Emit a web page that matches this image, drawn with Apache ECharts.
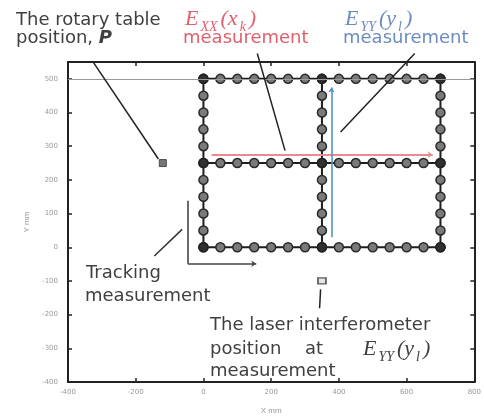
<!DOCTYPE html>
<html><head><meta charset="utf-8">
<script src="https://cdn.jsdelivr.net/npm/echarts@6/dist/echarts.min.js"></script>
<style>html,body{margin:0;padding:0;background:#fff}#c{width:484px;height:420px}</style>
</head><body><div id="c"></div>
<script>
// ---- data ----
const gridX = [0, 50, 100, 150, 200, 250, 300, 350, 400, 450, 500, 550, 600, 650, 700];
const gridY = [0, 50, 100, 150, 200, 250, 300, 350, 400, 450, 500];
const rowY = [0, 250, 500];
const colX = [0, 350, 700];
const rotaryTable = [[-120, 250]];
const laserPos = [[350, -100]];
const exxPath = [[24, 275], [677, 275]];
const eyyPath = [[378, 30], [378, 474]];
const refLineY = 500;
const xTickLabels = ['-400', '-200', '0', '200', '400', '600', '800'];
const yTickLabels = ['-400', '-300', '-200', '-100', '0', '100', '200', '300', '400', '500'];
// annotation leader lines (data coords)
const leaderP = [[-327, 552], [-133, 262]];
const leaderExx = [[159, 575], [241, 287]];
const leaderEyy = [[624, 575], [405, 342]];
const leaderTrack = [[-145, -26], [-63, 53]];
const trackV = [[-46, 138], [-46, -49]];
const trackH = [[-46, -49], [156, -49]];
const leaderLaser = [[346, -125], [343, -181]];

const chart = echarts.init(document.getElementById('c'));
const txt = '#404040', red = '#e0606e', blue = '#6c8cc0';
const ser = [];
rowY.forEach(r => ser.push({type: 'line', data: gridX.map(x => [x, r]), z: 3}));
colX.forEach(c => ser.push({type: 'line', data: gridY.map(y => [c, y]), z: 3}));
ser.forEach(s => Object.assign(s, {
  symbol: 'circle', symbolSize: 9, showSymbol: true,
  lineStyle: {color: '#1e1e1e', width: 2},
  itemStyle: {color: '#7a7a7a', borderColor: '#2a2a2a', borderWidth: 1.5},
  emphasis: {disabled: true}, animation: false
}));
ser[0].markLine = {silent: true, symbol: 'none', label: {show: false},
  lineStyle: {color: '#9a9a9a', width: 1, type: 'solid'}, data: [{yAxis: refLineY}]};
const inter = [];
colX.forEach(c => rowY.forEach(r => inter.push([c, r])));
ser.push({type: 'scatter', data: inter, symbol: 'circle', symbolSize: 10, z: 4,
  itemStyle: {color: '#1e1e1e'}, animation: false});
ser.push({type: 'scatter', data: rotaryTable, symbol: 'rect', symbolSize: [7, 7], z: 4,
  itemStyle: {color: '#555', borderColor: '#333', borderWidth: 1}, animation: false});
ser.push({type: 'scatter', data: laserPos, symbol: 'rect', symbolSize: [8, 6], z: 4,
  itemStyle: {color: '#ddd', borderColor: '#333', borderWidth: 1.5}, animation: false});
function lines(coords, color, width, arrow) {
  return {type: 'lines', coordinateSystem: 'cartesian2d', clip: false, z: 5,
    symbol: arrow ? ['none', 'arrow'] : ['none', 'none'], symbolSize: 5, animation: false, silent: true,
    lineStyle: {color: color, width: width, opacity: 1, curveness: 0}, data: [{coords: coords}]};
}
ser.push(lines(exxPath, '#e98a94', 2, true));
ser.push(lines(eyyPath, '#5a90c4', 1.6, true));
ser.push(lines(leaderP, '#222', 1.5));
ser.push(lines(leaderExx, '#222', 1.5));
ser.push(lines(leaderEyy, '#222', 1.5));
ser.push(lines(leaderTrack, '#333', 1.5));
ser.push(lines(trackV, '#444', 1.6));
ser.push(lines(trackH, '#444', 1.6, true));
ser.push(lines(leaderLaser, '#222', 1.5));

const axisCommon = {
  axisLine: {show: true, onZero: false, lineStyle: {color: '#222', width: 2}},
  axisTick: {show: true, inside: true, length: 4, lineStyle: {color: '#222', width: 1.5}},
  splitLine: {show: false}
};
const lblStyle = {fontSize: 7, color: '#999', fontFamily: 'DejaVu Sans'};
const F = '18px "DejaVu Sans"';
const serif = 'Liberation Serif';
function eRich(color) {
  return {
    i: {fontFamily: serif, fontStyle: 'italic', fontSize: 22, fill: color, color: color, verticalAlign: 'middle', padding: [0, 1, 0, 1]},
    s: {fontFamily: serif, fontStyle: 'italic', fontSize: 14, fill: color, color: color, verticalAlign: 'bottom', padding: [0, 2, -4, 1]}
  };
}
function T(text, x, y, color, extra) {
  return {type: 'text', x: x, y: y, z: 10, style: Object.assign({text: text, font: F, fill: color || txt, verticalAlign: 'middle'}, extra || {})};
}
chart.setOption({
  animation: false,
  grid: {left: 68, right: 5, top: 62, bottom: 33},
  xAxis: [
    Object.assign({type: 'value', min: -400, max: 800, interval: 200, position: 'bottom',
      name: 'X mm', nameLocation: 'middle', nameGap: 25, nameTextStyle: {fontSize: 8, color: '#999'},
      axisLabel: Object.assign({margin: 7, formatter: v => xTickLabels[(v + 400) / 200] ?? ''}, lblStyle)}, axisCommon),
    Object.assign({type: 'value', min: -400, max: 800, interval: 200, position: 'top',
      axisLabel: {show: false}}, axisCommon)
  ],
  yAxis: [
    Object.assign({type: 'value', min: -400, max: 550, interval: 100, position: 'left',
      name: 'Y mm', nameLocation: 'middle', nameGap: 33, nameTextStyle: {fontSize: 8, color: '#999'},
      axisLabel: Object.assign({margin: 10, showMaxLabel: false,
        formatter: v => (v % 100 === 0 ? (yTickLabels[(v + 400) / 100] ?? '') : '')}, lblStyle)}, axisCommon),
    Object.assign({type: 'value', min: -400, max: 550, interval: 100, position: 'right',
      axisLabel: {show: false}}, axisCommon)
  ],
  series: ser,
  graphic: [
    T('The rotary table', 16, 20),
    T('{a|position, }{b|P}', 16, 38, txt, {rich: {a: {font: F, fill: txt, color: txt}, b: {fontFamily: 'DejaVu Sans', fontSize: 18, fontWeight: 'bold', fontStyle: 'italic', fill: txt, color: txt}}}),
    T('{i|E}{s|XX}{i|(x}{s|k}{i|)}', 184, 19, red, {rich: eRich(red)}),
    T('measurement', 183, 38, red),
    T('{i|E}{s|YY}{i|(y}{s|l}{i|)}', 344, 19, blue, {rich: eRich(blue)}),
    T('measurement', 343, 38, blue),
    T('Tracking', 86, 273),
    T('measurement', 85, 296),
    T('The laser interferometer', 210, 325),
    T('position', 210, 349),
    T('at', 305, 349),
    T('{i|E}{s|YY}{i|(y}{s|l}{i|)}', 362, 349, txt, {rich: eRich(txt)}),
    T('measurement', 210, 371)
  ]
});
</script></body></html>
